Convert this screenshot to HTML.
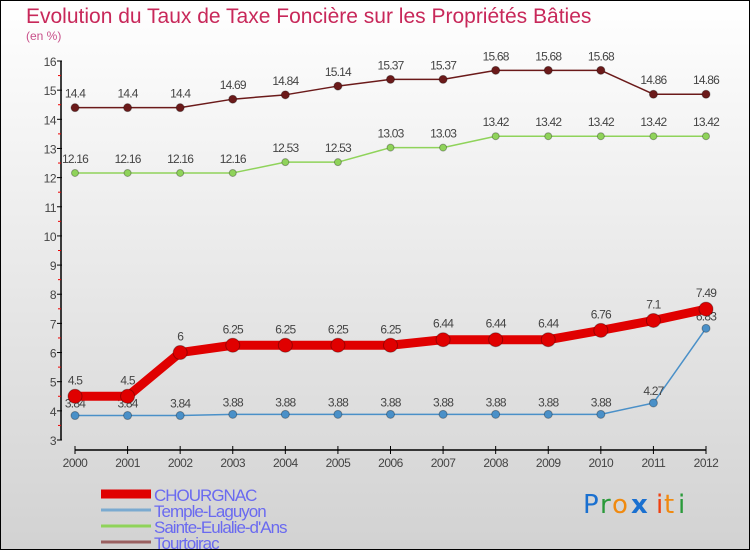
<!DOCTYPE html>
<html><head><meta charset="utf-8"><style>
body{margin:0;width:750px;height:550px;overflow:hidden;font-family:"Liberation Sans",sans-serif}
</style></head><body>
<svg id="c" width="750" height="550" xmlns="http://www.w3.org/2000/svg">
<defs><linearGradient id="bg" x1="0" y1="0" x2="0" y2="1"><stop offset="0" stop-color="#ffffff"/><stop offset="1" stop-color="#d2d2d2"/></linearGradient></defs>
<rect x="0.5" y="0.5" width="749" height="549" fill="url(#bg)" stroke="#000"/>
<text x="26" y="23" font-size="21" fill="#c8285a">Evolution du Taux de Taxe Foncière sur les Propriétés Bâties</text>
<text x="26" y="40" font-size="12" fill="#c8508a">(en %)</text>
<g id="axes"></g><g id="series"></g><g id="legend"></g>
<g font-size="26" font-family="'DejaVu Sans',sans-serif">
<text x="583" y="513" fill="#1a70d0">P</text><text x="600" y="513" fill="#2a9a3a">r</text><text x="612" y="513" fill="#f08a10">o</text><text x="631" y="513" fill="#1a70d0" font-weight="bold">x</text><text x="656" y="513" fill="#f04010">i</text><text x="664" y="513" fill="#f08a10">t</text><text x="678" y="513" fill="#2a9a3a">i</text>
</g>
</svg>
<script>
const years=[2000,2001,2002,2003,2004,2005,2006,2007,2008,2009,2010,2011,2012];
const yTicks=[3,4,5,6,7,8,9,10,11,12,13,14,15,16];
const chourgnac=[4.5,4.5,6,6.25,6.25,6.25,6.25,6.44,6.44,6.44,6.76,7.1,7.49];
const temple=[3.84,3.84,3.84,3.88,3.88,3.88,3.88,3.88,3.88,3.88,3.88,4.27,6.83];
const sainte=[12.16,12.16,12.16,12.16,12.53,12.53,13.03,13.03,13.42,13.42,13.42,13.42,13.42];
const tourtoirac=[14.4,14.4,14.4,14.69,14.84,15.14,15.37,15.37,15.68,15.68,15.68,14.86,14.86];
const names=["CHOURGNAC","Temple-Laguyon","Sainte-Eulalie-d'Ans","Tourtoirac"];
const NS="http://www.w3.org/2000/svg";
const X=i=>75+i*(706-75)/(years.length-1);
const Y=v=>440-(v-3)*(440-61)/13;
function mk(p,t,a){const e=document.createElementNS(NS,t);for(const k in a)e.setAttribute(k,a[k]);p.appendChild(e);return e;}
const ax=document.getElementById('axes');
mk(ax,'line',{x1:61,y1:Y(16),x2:61,y2:Y(3),stroke:'#000','stroke-width':1.5});
yTicks.forEach(v=>{mk(ax,'line',{x1:57,y1:Y(v),x2:62,y2:Y(v),stroke:'#000'});
 if(v<16)mk(ax,'line',{x1:58,y1:Y(v+0.5),x2:61,y2:Y(v+0.5),stroke:'#e00'});
 const t=mk(ax,'text',{x:56,y:Y(v)+5,'text-anchor':'end','font-size':12,fill:'#444','letter-spacing':'-0.5'});
 
 
 t.textContent=v;});
mk(ax,'line',{x1:75,y1:450,x2:706,y2:450,stroke:'#000','stroke-width':1.5});
years.forEach((y,i)=>{mk(ax,'line',{x1:X(i),y1:446,x2:X(i),y2:454,stroke:'#000'});
 const t=mk(ax,'text',{x:X(i),y:467,'text-anchor':'middle','font-size':12,fill:'#444','letter-spacing':'-0.5'});
 
 
 t.textContent=y;});
const sg=document.getElementById('series');
function series(vals,color,w,r,name,dy){
 const g=mk(sg,'g',{});
 
 
 mk(g,'polyline',{points:vals.map((v,i)=>X(i)+','+Y(v)).join(' '),fill:'none',stroke:color,'stroke-width':w,'stroke-linejoin':'round'});
 vals.forEach((v,i)=>{const c=mk(g,'circle',{cx:X(i),cy:Y(v),r:r,fill:color,stroke:'rgba(0,0,0,0.3)'});
  
  
  const t=mk(g,'text',{x:X(i),y:Y(v)-dy,'text-anchor':'middle','font-size':12,fill:'#444','letter-spacing':'-0.8'});
  
  
  t.textContent=v;});
}
series(tourtoirac,'#6b1a1a',1.5,4,'series-tourtoirac',10);
series(sainte,'#8fd35a',1.5,3.5,'series-sainte-eulalie',10);
series(temple,'#4a90c8',1.5,4,'series-temple-laguyon',8);
series(chourgnac,'#e00000',9,7,'series-chourgnac',12);
const lg=document.getElementById('legend');
const lc=['#e00000','#7aaad0','#8fd35a','#9a6060'],lw=[9,3,3,3];
names.forEach((n,i)=>{const y=494+i*16;
 const g=mk(lg,'g',{});
 
 
 mk(g,'line',{x1:101,y1:y,x2:151,y2:y,stroke:lc[i],'stroke-width':lw[i]});
 const t=mk(g,'text',{x:154,y:y+7,'font-size':17,fill:'#6a6af0','letter-spacing':'-1'});t.textContent=n;});
</script>
</body></html>
